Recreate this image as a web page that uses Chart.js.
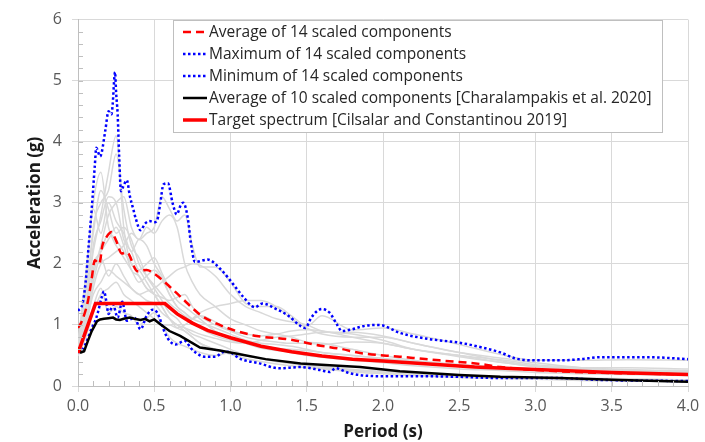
<!DOCTYPE html>
<html>
<head>
<meta charset="utf-8">
<script src="https://cdn.jsdelivr.net/npm/chart.js@4.4.1/dist/chart.umd.min.js"></script>
<style>
  html, body { margin: 0; padding: 0; background: #fff; }
  #wrap { width: 705px; height: 442px; }
</style>
</head>
<body>
<div id="wrap"><canvas id="spectra" width="705" height="442"></canvas></div>
<script>
// Period grid shared by the 14 scaled components (s)
const periods = [0, 0.05, 0.1, 0.15, 0.2, 0.25, 0.3, 0.35, 0.4, 0.45, 0.5, 0.55, 0.6, 0.65, 0.7, 0.75,
  0.8, 0.9, 1.0, 1.1, 1.2, 1.3, 1.4, 1.5, 1.6, 1.8, 2.0, 2.2, 2.5, 2.8, 3.0, 3.3, 3.6, 4.0];

// Spectral acceleration (g) of each scaled component
const components = [
  [0.55,1.2,2.6,3.0,3.2,3.8,2.9,2.3,2.1,1.8,1.6,1.4,1.2,1.1,0.95,0.85,0.8,0.7,0.6,0.5,0.45,0.42,0.38,0.35,0.32,0.27,0.24,0.2,0.17,0.14,0.12,0.1,0.09,0.08],
  [0.7,1.8,3.0,3.5,2.6,2.4,2.2,2.0,1.8,1.6,1.5,1.3,1.1,0.95,0.9,0.8,0.7,0.6,0.55,0.5,0.45,0.4,0.37,0.33,0.3,0.26,0.22,0.19,0.16,0.14,0.13,0.11,0.1,0.09],
  [0.6,1.0,1.8,2.3,2.8,3.0,3.1,2.6,2.4,2.6,2.5,2.7,2.8,2.6,2.0,1.7,1.5,1.3,1.1,1.0,0.9,0.85,0.8,0.72,0.7,0.6,0.5,0.42,0.35,0.3,0.28,0.25,0.22,0.2],
  [0.5,0.9,1.6,2.0,2.1,2.2,2.3,2.5,2.4,2.5,2.6,3.1,2.9,2.7,2.8,2.3,1.95,1.95,1.7,1.35,1.3,1.3,1.15,0.98,1.15,0.92,0.95,0.85,0.68,0.5,0.42,0.42,0.43,0.42],
  [0.6,1.3,2.2,2.8,3.5,4.1,2.6,2.0,1.9,1.7,1.5,1.3,1.1,1.0,0.9,0.8,0.7,0.6,0.52,0.45,0.4,0.36,0.33,0.3,0.28,0.23,0.2,0.17,0.14,0.12,0.11,0.09,0.08,0.07],
  [0.6,1.0,1.5,1.7,1.9,1.8,1.7,1.6,1.5,1.55,1.6,1.7,1.8,1.9,1.95,2.0,1.98,1.8,1.5,1.3,1.2,1.1,1.05,1.0,0.9,0.85,0.75,0.6,0.5,0.38,0.32,0.28,0.25,0.22],
  [0.5,0.8,1.2,1.5,1.6,1.7,1.5,1.4,1.3,1.2,1.1,1.0,1.0,0.95,1.0,1.1,1.2,1.3,1.35,1.4,1.4,1.3,1.1,0.95,0.85,0.8,0.8,0.7,0.55,0.45,0.38,0.3,0.26,0.24],
  [0.55,0.9,1.3,1.6,1.2,1.3,1.2,1.15,1.0,1.1,1.2,1.0,0.8,0.7,0.65,0.6,0.55,0.5,0.55,0.5,0.45,0.4,0.37,0.33,0.3,0.25,0.22,0.19,0.16,0.15,0.14,0.13,0.12,0.1],
  [0.7,1.6,2.9,2.5,3.0,2.7,2.5,2.2,2.4,2.3,2.0,1.8,1.5,1.3,1.2,1.1,1.05,0.95,0.85,0.75,0.7,0.68,0.65,0.6,0.55,0.5,0.45,0.4,0.35,0.3,0.27,0.24,0.22,0.2],
  [0.6,1.3,2.0,2.2,2.5,2.3,2.1,1.9,1.7,1.8,1.9,1.75,1.5,1.3,1.2,1.1,1.15,1.05,0.9,0.8,0.75,0.72,0.7,0.7,0.68,0.72,0.7,0.6,0.5,0.42,0.35,0.3,0.27,0.25],
  [0.5,1.0,1.7,2.1,1.8,2.0,1.8,1.6,1.5,1.4,1.35,1.2,1.1,1.0,0.95,0.9,0.85,0.78,0.72,0.7,0.75,0.8,0.82,0.85,0.88,0.88,0.82,0.7,0.55,0.4,0.33,0.28,0.25,0.22],
  [0.55,1.1,2.3,2.7,3.1,3.0,2.4,2.2,1.9,2.0,2.1,1.85,1.6,1.4,1.3,1.2,1.1,0.9,0.8,0.7,0.62,0.58,0.55,0.5,0.47,0.42,0.38,0.33,0.28,0.25,0.22,0.2,0.19,0.17],
  [0.65,1.5,2.5,3.2,2.9,2.5,2.6,2.4,2.0,1.8,1.65,1.5,1.35,1.25,1.15,1.05,0.95,0.82,0.75,0.7,0.65,0.62,0.6,0.58,0.55,0.5,0.45,0.4,0.34,0.3,0.27,0.24,0.22,0.2],
  [0.5,0.95,1.9,2.2,2.4,2.6,2.3,1.9,1.8,1.6,1.5,1.45,1.4,1.45,1.5,1.3,1.15,1.0,0.9,0.85,0.82,0.85,0.9,0.92,0.9,0.8,0.7,0.6,0.48,0.38,0.32,0.3,0.3,0.28]
];

// Average of the 14 scaled components
const avg14T = [0, 0.025, 0.065, 0.09, 0.11, 0.14, 0.16, 0.19, 0.22, 0.25, 0.287, 0.32, 0.39, 0.45, 0.5, 0.56, 0.6, 0.69, 0.8, 0.91,
  1.04, 1.17, 1.39, 1.59, 1.72, 1.85, 2.11, 2.37, 2.64, 2.77, 3.16, 3.55, 4.0];
const avg14A = [0.95, 1.06, 1.39, 1.76, 2.06, 2.0, 2.3, 2.45, 2.52, 2.38, 2.17, 2.19, 1.88, 1.9, 1.84, 1.72, 1.63, 1.42, 1.17, 1.02,
  0.9, 0.82, 0.76, 0.66, 0.61, 0.54, 0.48, 0.42, 0.36, 0.31, 0.24, 0.21, 0.19];

// Envelope of the 14 scaled components
const maxT = [0, 0.03, 0.05, 0.07, 0.09, 0.11, 0.12, 0.145, 0.155, 0.18, 0.2, 0.22, 0.227, 0.243, 0.25, 0.26, 0.27, 0.282, 0.297, 0.32,
  0.34, 0.363, 0.38, 0.41, 0.44, 0.47, 0.5, 0.52, 0.54, 0.56, 0.59, 0.62, 0.647, 0.675, 0.69, 0.72, 0.74, 0.767, 0.85, 0.94,
  1.02, 1.08, 1.16, 1.21, 1.3, 1.38, 1.46, 1.49, 1.53, 1.57, 1.6, 1.65, 1.7, 1.73, 1.8, 1.87, 1.95, 2.0, 2.11, 2.3,
  2.5, 2.65, 2.77, 2.87, 3.0, 3.16, 3.3, 3.42, 3.75, 4.0];
const maxA = [1.23, 1.35, 1.7, 2.3, 2.9, 3.6, 3.9, 3.76, 3.82, 4.2, 4.5, 4.45, 4.6, 5.14, 4.8, 4.45, 3.76, 3.19, 3.27, 3.37,
  3.11, 2.89, 2.73, 2.55, 2.66, 2.7, 2.68, 2.72, 3.0, 3.3, 3.32, 3.0, 2.81, 2.97, 3.0, 2.75, 2.35, 2.03, 2.07, 1.9,
  1.66, 1.47, 1.29, 1.35, 1.26, 1.15, 0.98, 0.95, 1.12, 1.23, 1.26, 1.2, 1.0, 0.9, 0.93, 0.98, 1.0, 0.99, 0.87, 0.77,
  0.71, 0.63, 0.55, 0.45, 0.42, 0.42, 0.44, 0.47, 0.47, 0.44];
const minT = [0, 0.03, 0.06, 0.09, 0.11, 0.13, 0.155, 0.17, 0.185, 0.2, 0.23, 0.26, 0.29, 0.32, 0.35, 0.37, 0.41, 0.45, 0.49, 0.52,
  0.57, 0.6, 0.64, 0.7, 0.74, 0.77, 0.83, 0.9, 0.96, 1.0, 1.06, 1.19, 1.32, 1.46, 1.59, 1.65, 1.69, 1.78, 1.98, 2.24,
  2.5, 2.77, 3.16, 3.42, 4.0];
const minA = [0.55, 0.6, 0.75, 0.95, 1.05, 1.2, 1.45, 1.55, 1.4, 1.18, 1.33, 1.12, 1.38, 1.07, 1.1, 1.12, 0.93, 1.15, 1.25, 1.2,
  0.87, 0.74, 0.68, 0.74, 0.62, 0.55, 0.48, 0.48, 0.56, 0.55, 0.45, 0.37, 0.29, 0.31, 0.26, 0.23, 0.29, 0.21, 0.16, 0.16,
  0.15, 0.13, 0.13, 0.1, 0.08];

// Average of 10 scaled components [Charalampakis et al. 2020]
const avg10T = [0, 0.02, 0.04, 0.065, 0.09, 0.125, 0.145, 0.17, 0.2, 0.23, 0.25, 0.275, 0.3, 0.34, 0.37, 0.41, 0.44, 0.47, 0.5, 0.54,
  0.6, 0.67, 0.8, 0.93, 1.06, 1.23, 1.46, 1.65, 1.85, 2.11, 2.5, 2.77, 3.16, 3.55, 4.0];
const avg10A = [0.63, 0.55, 0.57, 0.74, 0.9, 1.06, 1.09, 1.1, 1.11, 1.12, 1.09, 1.08, 1.1, 1.12, 1.1, 1.08, 1.1, 1.06, 1.09, 1.01,
  0.9, 0.82, 0.63, 0.58, 0.52, 0.44, 0.37, 0.34, 0.31, 0.24, 0.18, 0.15, 0.13, 0.1, 0.07];

// Target spectrum [Cilsalar and Constantinou 2019]
const targetT = [0, 0.115, 0.57, 0.65, 0.75, 0.85, 1.0, 1.2, 1.4, 1.6, 1.8, 2.0, 2.3, 2.6, 3.0, 3.5, 4.0];
const targetA = [0.54, 1.35, 1.35, 1.18, 1.03, 0.91, 0.79, 0.65, 0.56, 0.49, 0.44, 0.41, 0.36, 0.31, 0.27, 0.22, 0.19];

const pts = (xs, ys) => xs.map((x, i) => ({ x, y: ys[i] }));

const keySeries = [
  { label: 'Average of 14 scaled components', data: pts(avg14T, avg14A),
    borderColor: '#ff0000', borderWidth: 2.5, borderDash: [8, 5], cubicInterpolationMode: 'monotone', order: 2 },
  { label: 'Maximum of 14 scaled components', data: pts(maxT, maxA),
    borderColor: '#0000ff', borderWidth: 2.5, borderDash: [2.5, 2.5], cubicInterpolationMode: 'monotone', order: 3 },
  { label: 'Minimum of 14 scaled components', data: pts(minT, minA),
    borderColor: '#0000ff', borderWidth: 2.5, borderDash: [2.5, 2.5], cubicInterpolationMode: 'monotone', order: 4 },
  { label: 'Average of 10 scaled components [Charalampakis et al. 2020]', data: pts(avg10T, avg10A),
    borderColor: '#000000', borderWidth: 2.5, order: 1 },
  { label: 'Target spectrum [Cilsalar and Constantinou 2019]', data: pts(targetT, targetA),
    borderColor: '#ff0000', borderWidth: 3.5, order: 0 }
];

const grayLines = components.map((vals, i) => ({
  label: 'Component ' + (i + 1),
  data: pts(periods, vals),
  borderColor: '#d9d9d9',
  borderWidth: 1.5,
  cubicInterpolationMode: 'monotone',
  order: 10,
  isComponent: true
}));

// small inward ticks between the gridlines, like a spreadsheet plot
const minorTicks = {
  id: 'minorTicks',
  afterDraw(chart) {
    const { ctx, chartArea: a, scales: { x, y } } = chart;
    ctx.save();
    ctx.strokeStyle = '#bfbfbf';
    ctx.lineWidth = 1;
    ctx.beginPath();
    for (let i = 1; i < 40; i++) {
      const px = Math.round(x.getPixelForValue(i / 10)) + 0.5;
      ctx.moveTo(px, a.bottom); ctx.lineTo(px, a.bottom - 5);
    }
    for (let j = 1; j < 30; j++) {
      const py = Math.round(y.getPixelForValue(j / 5)) + 0.5;
      ctx.moveTo(a.left, py); ctx.lineTo(a.left + 5, py);
    }
    ctx.stroke();
    ctx.restore();
  }
};

// boxed legend in the upper right of the plot
const boxLegend = {
  id: 'boxLegend',
  afterDatasetsDraw(chart) {
    const ctx = chart.ctx;
    const items = chart.data.datasets.filter(d => !d.isComponent);
    const left = 173, top = 20, w = 489, h = 112, rowH = 22;
    ctx.save();
    ctx.fillStyle = '#fff';
    ctx.fillRect(left, top, w, h);
    ctx.strokeStyle = '#bfbfbf';
    ctx.lineWidth = 1;
    ctx.strokeRect(left + 0.5, top + 0.5, w, h);
    ctx.font = "15.5px 'Open Sans', sans-serif";
    ctx.textBaseline = 'middle';
    items.forEach((d, i) => {
      const yy = top + 12 + i * rowH;
      ctx.strokeStyle = d.borderColor;
      ctx.lineWidth = d.borderWidth;
      ctx.setLineDash(d.borderDash || []);
      ctx.beginPath();
      ctx.moveTo(183, yy); ctx.lineTo(207, yy);
      ctx.stroke();
      ctx.setLineDash([]);
      ctx.fillStyle = '#262626';
      ctx.fillText(d.label, 209, yy + 1);
    });
    ctx.restore();
  }
};

Chart.defaults.font.family = "'Open Sans', sans-serif";

new Chart(document.getElementById('spectra'), {
  type: 'line',
  data: { datasets: [...keySeries, ...grayLines] },
  options: {
    responsive: false,
    animation: false,
    events: [],
    layout: { padding: { top: 14, right: 17, left: 0, bottom: 0 } },
    elements: { point: { radius: 0 }, line: { fill: false } },
    plugins: { legend: { display: false }, tooltip: { enabled: false } },
    scales: {
      x: {
        type: 'linear', min: 0, max: 4,
        afterFit: s => { s.height = 56; },
        grid: { color: '#d9d9d9', tickLength: 6 },
        border: { color: '#bfbfbf' },
        ticks: { stepSize: 0.5, padding: 5, color: '#595959', font: { size: 16 }, callback: v => v.toFixed(1) },
        title: { display: true, text: 'Period (s)', color: '#1a1a1a', font: { size: 17, weight: 'bold' }, padding: { bottom: 0 } }
      },
      y: {
        min: 0, max: 6,
        afterFit: s => { s.width = 78; },
        grid: { color: '#d9d9d9', tickLength: 6 },
        border: { color: '#bfbfbf' },
        ticks: { stepSize: 1, padding: 10, color: '#595959', font: { size: 16 } },
        title: { display: true, text: 'Acceleration (g)', color: '#1a1a1a', font: { size: 17, weight: 'bold' }, padding: { top: 25 } }
      }
    }
  },
  plugins: [minorTicks, boxLegend]
});
</script>
</body>
</html>
